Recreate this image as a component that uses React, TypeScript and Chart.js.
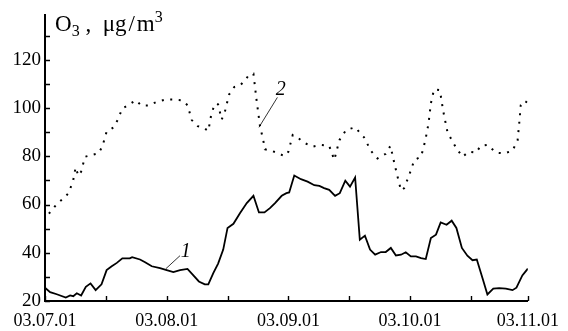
import React, { useEffect, useRef } from "react";
import { Chart, registerables } from "chart.js";

Chart.register(...registerables);

// X axis: days since 03.07.01
const tickLabels = ["03.07.01", "03.08.01", "03.09.01", "03.10.01", "03.11.01"];
const majorTickDays = [0, 31, 62, 93, 123];
const minorTickDays = [15.5, 46.5, 77.5, 108.5];
const yTickValues = [20, 30, 40, 50, 60, 70, 80, 90, 100, 110, 120, 130];
const yLabelValues = [20, 40, 60, 80, 100, 120];

// Series 1 (solid)
const days1 = [
  0, 1.3, 3.0, 5.3, 6.4, 7.2, 8.1, 9.2, 10.4, 11.6,
  12.9, 14.4, 15.7, 17.0, 18.3, 19.7, 21.6, 22.2, 24.2, 25.5,
  27.2, 29.3, 31.0, 32.7, 34.4, 36.3, 37.8, 39.2, 40.7, 41.6,
  42.9, 44.1, 45.4, 46.5, 48.0, 49.7, 51.4, 53.1, 54.5, 55.9,
  57.3, 58.6, 60.3, 61.5,
  62.2, 63.5, 65.2, 66.9, 68.6, 69.9, 71.1, 72.4, 73.9, 75.1,
  76.5, 77.7, 79.0, 80.2, 81.5, 82.8, 84.1, 85.6, 86.8, 88.1,
  89.4, 90.7, 91.9, 93.2, 94.5, 95.8, 97.0, 98.3, 99.6, 100.8,
  102.3, 103.6, 104.8, 106.2, 107.6, 108.9, 110.0, 111.5, 112.7, 114.2,
  115.7, 117.4, 119.1, 120.1, 121.6, 123.0,
];
const ozone1 = [
  25.5, 23.7, 22.8, 21.4, 22.3, 22.0, 23.2, 22.3, 25.9, 27.3,
  24.5, 26.9, 32.8, 34.4, 35.8, 37.7, 37.7, 38.2, 37.2, 36.1,
  34.4, 33.6, 32.8, 32.0, 32.8, 33.3, 30.6, 28.1, 26.9, 26.9,
  31.7, 35.5, 41.3, 50.3, 52.0, 56.5, 60.6, 63.6, 56.7, 56.7,
  58.5, 60.6, 63.6, 64.7,
  65.0, 72.0, 70.5, 69.5, 68.0, 67.7, 66.8, 66.1, 63.6, 64.7,
  69.9, 67.4, 71.2, 45.4, 47.1, 41.3, 39.2, 40.3, 40.3, 42.0,
  38.9, 39.2, 40.2, 38.5, 38.5, 37.8, 37.4, 46.1, 47.5, 52.6,
  51.6, 53.3, 50.3, 42.0, 38.8, 36.9, 37.2, 29.2, 22.7, 25.1,
  25.3, 25.1, 24.5, 25.5, 30.6, 33.4,
];

// Series 2 (dotted)
const days2 = [
  1.0, 2.5, 3.8, 5.1, 6.1, 7.2, 7.8, 8.5, 9.2, 10.2,
  11.9, 13.6, 14.6, 15.7, 17.4, 18.5, 19.7, 21.2, 23.1, 24.6,
  26.3, 28.4, 30.7, 32.7, 34.8, 36.3, 37.4, 38.9, 40.3, 41.6,
  42.4, 43.3, 44.1, 45.0, 45.8, 46.9, 48.2, 49.7, 50.8, 52.0,
  53.1, 53.9, 54.8, 55.6, 56.0, 57.6, 59.0, 61.0,
  62.0, 63.1, 64.3, 66.0, 68.2, 70.3, 72.4, 73.7, 75.0, 76.7,
  79.0, 81.3, 83.0, 84.7, 86.8, 88.0, 89.0, 89.8, 90.7, 91.5,
  92.8, 94.1, 95.8, 96.9, 97.7, 98.3, 99.1, 100.6, 101.4, 102.5,
  103.8, 105.1, 106.4, 107.9, 109.8, 111.0, 112.7, 114.9, 117.0, 119.1,
  120.4, 120.8, 121.2, 122.1, 122.9,
];
const ozone2 = [
  56.2, 59.2, 61.3, 63.1, 65.0, 70.2, 75.4, 71.9, 73.6, 79.8,
  80.5, 81.2, 84.0, 90.2, 91.9, 95.0, 99.8, 101.2, 103.2, 101.0,
  101.0, 102.5, 103.5, 103.5, 103.2, 101.2, 95.0, 92.5, 91.9, 90.5,
  97.7, 101.8, 101.5, 95.2, 98.3, 105.6, 108.7, 109.4, 111.2, 113.8,
  114.2, 103.2, 92.2, 86.7, 82.9, 82.3, 81.5, 80.1,
  81.9, 88.8, 87.8, 85.6, 84.0, 84.7, 84.3, 78.5, 86.7, 90.9,
  92.0, 87.8, 82.3, 79.1, 81.0, 84.3, 77.1, 71.6, 65.8, 66.8,
  72.3, 78.5, 79.8, 86.7, 93.6, 101.9, 107.7, 107.4, 99.1, 90.2,
  86.1, 82.6, 79.8, 81.9, 81.5, 84.3, 84.7, 81.5, 81.2, 82.3,
  86.7, 93.6, 101.2, 103.0, 102.2,
];

const seriesNames = ["1", "2"];

// Leader-line annotations in data coordinates (day, value)
const annotations = [
  { text: seriesNames[0], from: [30.8, 33.4], to: [34.4, 38.8], at: [34.6, 38.2] },
  { text: seriesNames[1], from: [54.5, 92.0], to: [59.2, 104.4], at: [58.8, 105.4] },
];

const FONT = "'Liberation Serif', 'Times New Roman', serif";

const decorPlugin = {
  id: "decor",
  afterDraw(chart: any) {
    const { ctx, chartArea, scales } = chart;
    const x = scales.x;
    const y = scales.y;
    ctx.save();
    ctx.strokeStyle = "#000";
    ctx.lineWidth = 1.4;
    ctx.beginPath();
    for (const v of yTickValues) {
      const py = Math.round(y.getPixelForValue(v)) + 0.5;
      ctx.moveTo(chartArea.left, py);
      ctx.lineTo(chartArea.left + 5, py);
    }
    for (const v of [...majorTickDays, ...minorTickDays]) {
      const px = Math.round(x.getPixelForValue(v)) + 0.5;
      ctx.moveTo(px, chartArea.bottom);
      ctx.lineTo(px, chartArea.bottom - 5);
    }
    ctx.stroke();

    ctx.lineWidth = 0.8;
    ctx.fillStyle = "#000";
    ctx.font = `italic 20px ${FONT}`;
    ctx.textAlign = "left";
    ctx.textBaseline = "alphabetic";
    for (const a of annotations) {
      ctx.beginPath();
      ctx.moveTo(x.getPixelForValue(a.from[0]), y.getPixelForValue(a.from[1]));
      ctx.lineTo(x.getPixelForValue(a.to[0]), y.getPixelForValue(a.to[1]));
      ctx.stroke();
      ctx.fillText(a.text, x.getPixelForValue(a.at[0]), y.getPixelForValue(a.at[1]));
    }
    ctx.restore();
  },
};

export default function App() {
  const canvasRef = useRef<HTMLCanvasElement | null>(null);

  useEffect(() => {
    if (!canvasRef.current) return;
    const chart = new Chart(canvasRef.current, {
      type: "line",
      data: {
        datasets: [
          {
            label: seriesNames[0],
            data: days1.map((d, i) => ({ x: d, y: ozone1[i] })),
            borderColor: "#000",
            borderWidth: 1.8,
            pointRadius: 0,
            tension: 0,
            fill: false,
          },
          {
            label: seriesNames[1],
            data: days2.map((d, i) => ({ x: d, y: ozone2[i] })),
            borderColor: "#000",
            borderWidth: 2,
            borderDash: [2, 6.5],
            pointRadius: 0,
            tension: 0,
            fill: false,
          },
        ],
      },
      options: {
        animation: false,
        responsive: false,
        events: [],
        layout: { padding: { top: 15, right: 40, left: 0, bottom: 0 } },
        plugins: { legend: { display: false }, tooltip: { enabled: false } },
        scales: {
          x: {
            type: "linear",
            min: 0,
            max: 123,
            afterBuildTicks: (s: any) => {
              s.ticks = majorTickDays.map((v) => ({ value: v }));
            },
            afterFit: (s: any) => {
              s.height = 30;
            },
            ticks: {
              autoSkip: false,
              maxRotation: 0,
              padding: 9,
              color: "#000",
              font: { family: FONT, size: 18 },
              callback: (v: any) => {
                const i = majorTickDays.indexOf(Number(v));
                return i >= 0 ? tickLabels[i] : "";
              },
            },
            grid: { display: false, drawTicks: false },
            border: { display: true, color: "#000", width: 2 },
          },
          y: {
            type: "linear",
            min: 20,
            max: 138.4,
            afterBuildTicks: (s: any) => {
              s.ticks = yTickValues.map((v) => ({ value: v }));
            },
            afterFit: (s: any) => {
              s.width = 45;
            },
            ticks: {
              autoSkip: false,
              padding: 4,
              color: "#000",
              font: { family: FONT, size: 19 },
              callback: (v: any) => (yLabelValues.includes(Number(v)) ? String(v) : ""),
            },
            grid: { display: false, drawTicks: false },
            border: { display: true, color: "#000", width: 2 },
          },
        },
      },
      plugins: [decorPlugin],
    });
    return () => chart.destroy();
  }, []);

  return (
    <div style={{ position: "absolute", left: 0, top: 0, width: 568, height: 331, background: "#fff" }}>
      <canvas ref={canvasRef} width={568} height={331} style={{ display: "block" }} />
      <div
        style={{
          position: "absolute",
          left: 55,
          top: 3,
          fontFamily: FONT,
          fontSize: 23,
          lineHeight: "28px",
          whiteSpace: "nowrap",
          color: "#000",
        }}
      >
        O<sub style={{ fontSize: 16 }}>3</sub> , &nbsp;μg<span style={{ margin: "0 2px" }}>/</span>m
        <sup style={{ fontSize: 16 }}>3</sup>
      </div>
    </div>
  );
}
